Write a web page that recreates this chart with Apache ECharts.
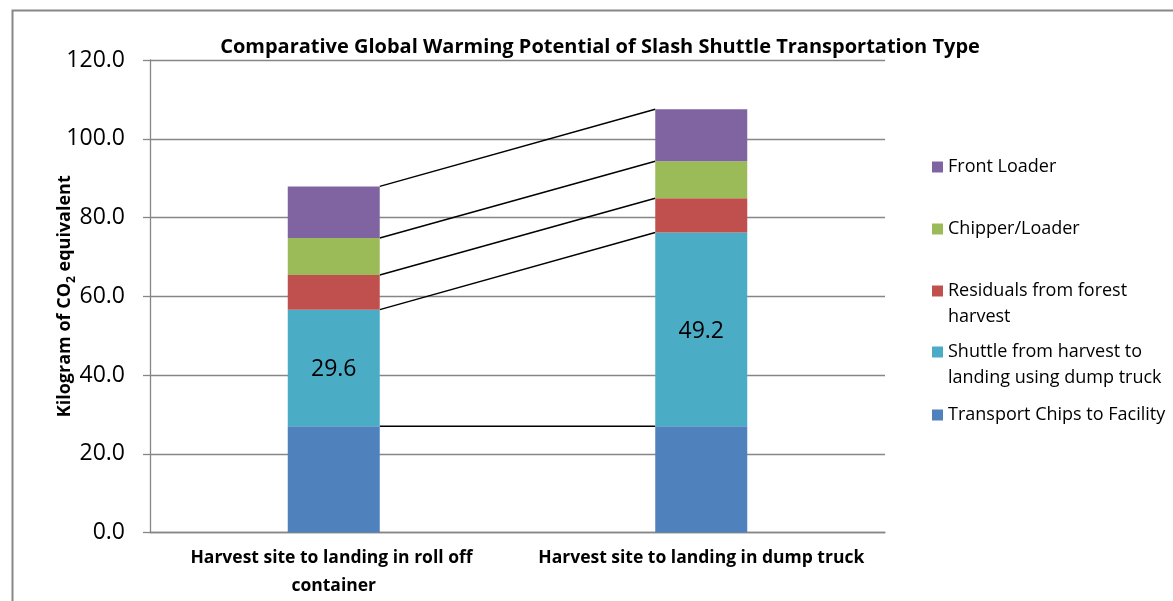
<!DOCTYPE html>
<html>
<head>
<meta charset="utf-8">
<script src="https://cdn.jsdelivr.net/npm/echarts@6/dist/echarts.min.js"></script>
<style>
html,body{margin:0;padding:0;background:#fff;}
#c{width:1173px;height:601px;}
</style>
</head>
<body>
<div id="c"></div>
<script>
const categories = ['Harvest site to landing in roll off container', 'Harvest site to landing in dump truck'];
const transportChips = [27.0, 27.0];
const shuttle = [29.6, 49.2];
const residuals = [8.8, 8.7];
const chipperLoader = [9.4, 9.4];
const frontLoader = [13.1, 13.2];
const yTicks = [0, 20, 40, 60, 80, 100, 120];

const names = {
  transport: 'Transport Chips to Facility',
  shuttle: 'Shuttle from harvest to landing using dump truck',
  residuals: 'Residuals from forest harvest',
  chipper: 'Chipper/Loader',
  front: 'Front Loader'
};
const colors = {
  transport: '#4F81BD', shuttle: '#4BACC6', residuals: '#C0504D', chipper: '#9BBB59', front: '#8064A2'
};
const FONT = 'Open Sans';

// cumulative tops for series lines
const stacks = [transportChips, shuttle, residuals, chipperLoader, frontLoader];
const lineData = [];
let cum = [0, 0];
stacks.forEach(s => {
  cum = [cum[0] + s[0], cum[1] + s[1]];
  lineData.push([0, cum[0], cum[1]]);
});

const BAR_W = 92;

function barSeries(key, data, label) {
  return {
    name: names[key], type: 'bar', stack: 'total', data: data, barWidth: BAR_W,
    itemStyle: { color: colors[key] },
    label: label ? {
      show: true, position: 'inside', offset: [0, 2], color: '#000', fontFamily: FONT, fontSize: 23,
      formatter: p => p.value.toFixed(1)
    } : { show: false },
    emphasis: { disabled: true }
  };
}

function legendAt(key, top, text) {
  return {
    data: [names[key]], orient: 'vertical', left: 932, top: top, padding: 0,
    icon: 'rect', itemWidth: 11, itemHeight: 11, itemGap: 0, selectedMode: false,
    formatter: () => text,
    textStyle: { fontFamily: FONT, fontSize: 18, color: '#000', lineHeight: 26 }
  };
}

const option = {
  animation: false,
  backgroundColor: '#fff',
  title: {
    text: 'Comparative Global Warming Potential of Slash Shuttle Transportation Type',
    left: 595, top: 32, textAlign: 'center',
    textStyle: { fontFamily: FONT, fontSize: 20, fontWeight: 'bold', color: '#000' }
  },
  grid: { left: 150, right: 288, top: 60, bottom: 68.5 },
  legend: [
    legendAt('front', 154, 'Front Loader'),
    legendAt('chipper', 216, 'Chipper/Loader'),
    legendAt('residuals', 252, ' \nResiduals from forest\nharvest'),
    legendAt('shuttle', 313, ' \nShuttle from harvest to\nlanding using dump truck'),
    legendAt('transport', 402, 'Transport Chips to Facility')
  ],
  xAxis: {
    type: 'category', data: categories,
    axisLine: { lineStyle: { color: '#868686', width: 1.3 } },
    axisTick: { show: false },
    axisLabel: {
      interval: 0, margin: 12, fontFamily: FONT, fontSize: 17.5, fontWeight: 'bold', color: '#000',
      lineHeight: 28, width: 345, overflow: 'break'
    }
  },
  yAxis: {
    type: 'value', min: 0, max: 120, interval: 20,
    name: '{a|Kilogram of CO}{s|2}{a| equivalent}',
    nameLocation: 'middle', nameGap: 76, nameMoveOverlap: false,
    nameTextStyle: {
      rich: {
        a: { fontFamily: FONT, fontSize: 18, fontWeight: 'bold', color: '#000', lineHeight: 24, verticalAlign: 'bottom' },
        s: { fontFamily: FONT, fontSize: 12, fontWeight: 'bold', color: '#000', lineHeight: 24, verticalAlign: 'bottom', padding: [0, 0, -4, 0] }
      }
    },
    axisLine: { show: true, lineStyle: { color: '#868686', width: 1.3 } },
    axisTick: { show: true, length: 7, lineStyle: { color: '#868686', width: 1.3 } },
    splitLine: { show: true, lineStyle: { color: '#868686', width: 1.3 } },
    axisLabel: {
      margin: 25, fontFamily: FONT, fontSize: 23, color: '#000',
      formatter: v => yTicks.includes(v) ? v.toFixed(1) : ''
    }
  },
  series: [
    barSeries('transport', transportChips, false),
    barSeries('shuttle', shuttle, true),
    barSeries('residuals', residuals, false),
    barSeries('chipper', chipperLoader, false),
    barSeries('front', frontLoader, false),
    {
      name: 'seriesLines', type: 'custom', data: lineData,
      encode: { x: 0, y: [1, 2] },
      silent: true, z: 1,
      renderItem: function (params, api) {
        const a = api.coord([0, api.value(1)]);
        const b = api.coord([1, api.value(2)]);
        return {
          type: 'line',
          shape: { x1: a[0] + BAR_W / 2, y1: a[1], x2: b[0] - BAR_W / 2, y2: b[1] },
          style: { stroke: '#000', lineWidth: 1.5 }
        };
      }
    }
  ],
  graphic: [{
    type: 'rect', left: 10, top: 8, silent: true,
    shape: { width: 1300, height: 800 },
    style: { fill: 'none', stroke: '#878787', lineWidth: 2 }
  }]
};

const chart = echarts.init(document.getElementById('c'), null, { renderer: 'canvas' });
chart.setOption(option);
</script>
</body>
</html>
